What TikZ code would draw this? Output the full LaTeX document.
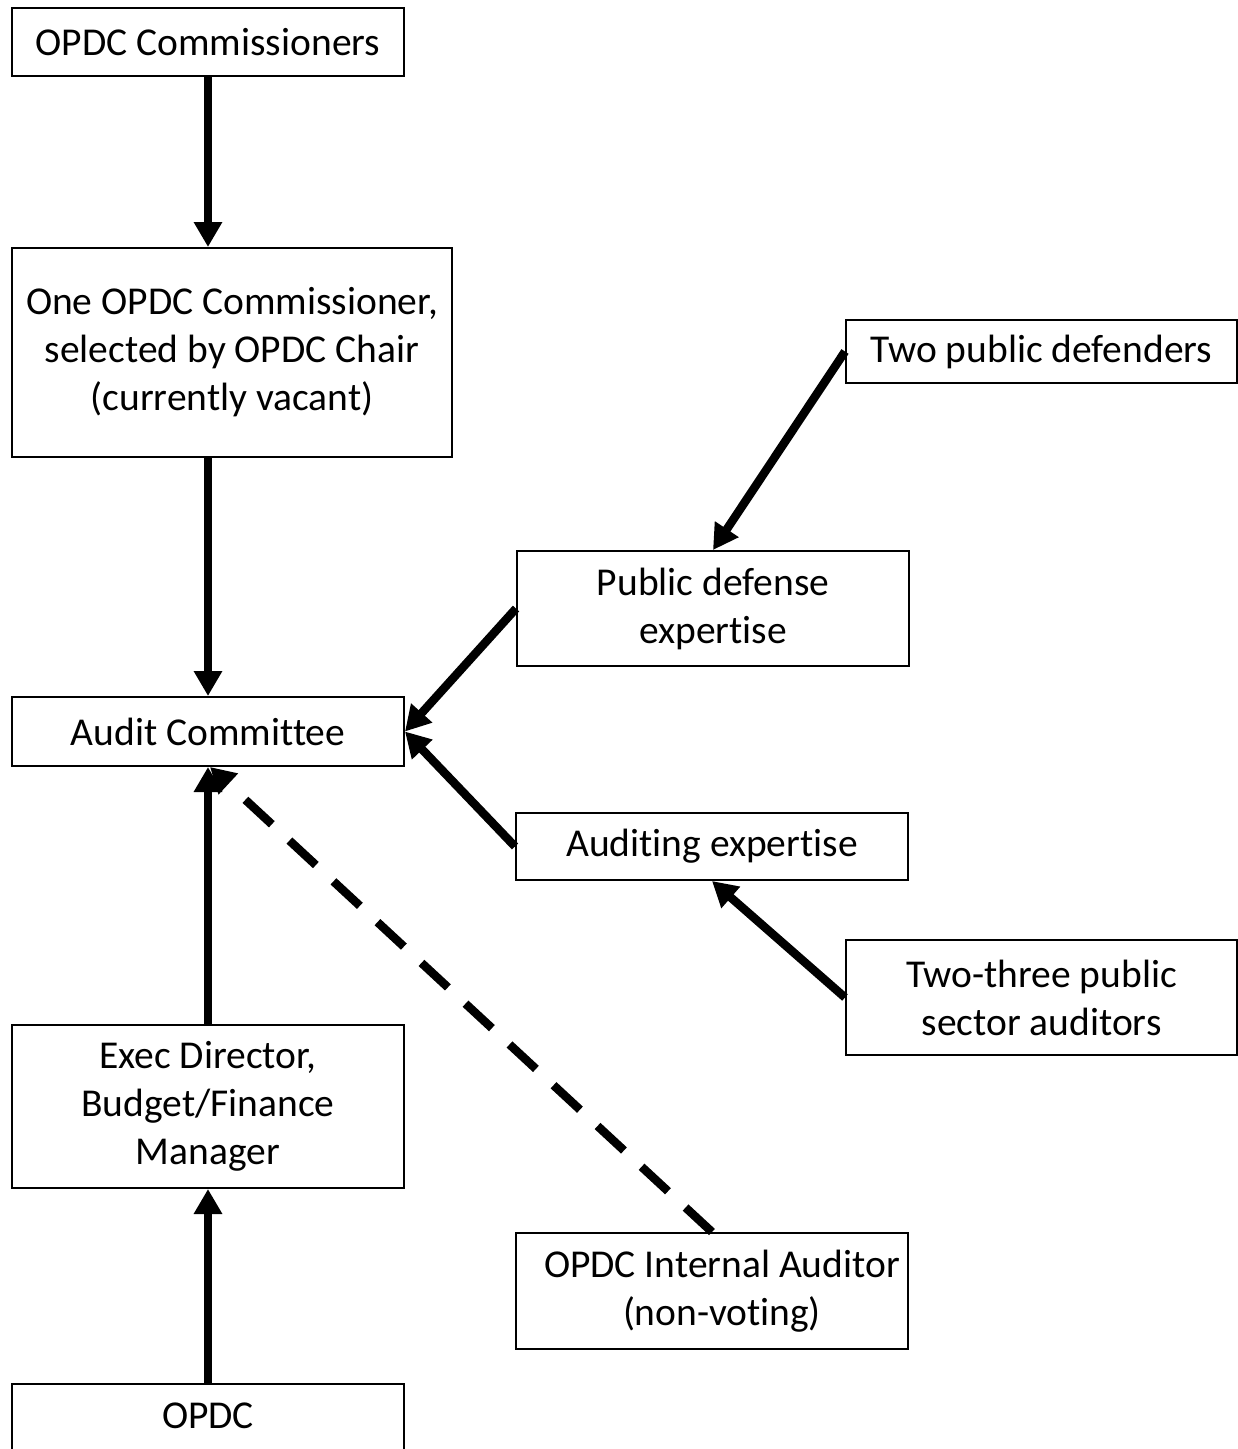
\documentclass[tikz,border=0pt]{standalone}
\usepackage{fontspec}
\setmainfont{Carlito}[RawFeature={-liga}]
\usetikzlibrary{arrows.meta}
\begin{document}
\begin{tikzpicture}[x=1pt,y=-1pt,
  box/.style={draw=black, line width=2pt, fill=white, align=center, inner sep=0pt,
    font=\fontsize{39.5}{48}\selectfont},
  link/.style={line width=8.5pt, -{Triangle[length=25pt,width=27pt]}},
  dlink/.style={line width=8.5pt, dash pattern=on 36pt off 24pt, -{Triangle[length=25pt,width=27pt]}}]
\useasboundingbox (0,0) rectangle (1238,1449);
\begin{scope}
\clip (0,0) rectangle (1238,1449);
\node[box, minimum width=392pt, minimum height=68pt] (com) at (208,42) {\raisebox{-2pt}{OPDC Commissioners}};
\node[box, minimum width=440pt, minimum height=209pt] (one) at (232,352.5) {One OPDC Commissioner,\\selected by OPDC Chair\\(currently vacant)};
\node[box, minimum width=392pt, minimum height=69pt] (ac) at (208,731.5) {Audit Committee};
\node[box, minimum width=392pt, minimum height=163pt] (ed) at (208,1106.5) {Exec Director,\\Budget/Finance\\Manager};
\node[box, minimum width=392pt, minimum height=120pt] (opdc) at (208,1444) {};
\node[font=\fontsize{39.5}{48}\selectfont] (opdct) at (208,1416) {OPDC};
\node[box, minimum width=391pt, minimum height=63pt] (tpd) at (1041.5,351.5) {\raisebox{-2pt}{Two public defenders}};
\node[box, minimum width=392pt, minimum height=115pt] (pd) at (713,608.5) {Public defense\\expertise};
\node[box, minimum width=392pt, minimum height=67pt] (ae) at (712,846.5) {\raisebox{-2pt}{Auditing expertise}};
\node[box, minimum width=391pt, minimum height=115pt] (tt) at (1041.5,997.5) {Two-three public\\sector auditors};
\node[box, minimum width=392pt, minimum height=116pt] (ia) at (712,1291) {\hspace*{20pt}OPDC Internal Auditor\\\hspace*{20pt}(non-voting)};
\end{scope}
\draw[link] (com.south) -- (one.north -| com.south);
\draw[link] (one.south -| ac.north) -- (ac.north);
\draw[link] (pd.west) -- (ac.east);
\draw[link] (ae.west) -- (ac.east);
\draw[link] (tpd.west) -- (pd.north);
\draw[link] (tt.west) -- (ae.south);
\draw[link] (ed.north) -- (ac.south);
\draw[link] (opdc.north) -- (ed.south);
\draw[dlink] (ia.north) -- ([xshift=2pt]ac.south);
\end{tikzpicture}
\end{document}
